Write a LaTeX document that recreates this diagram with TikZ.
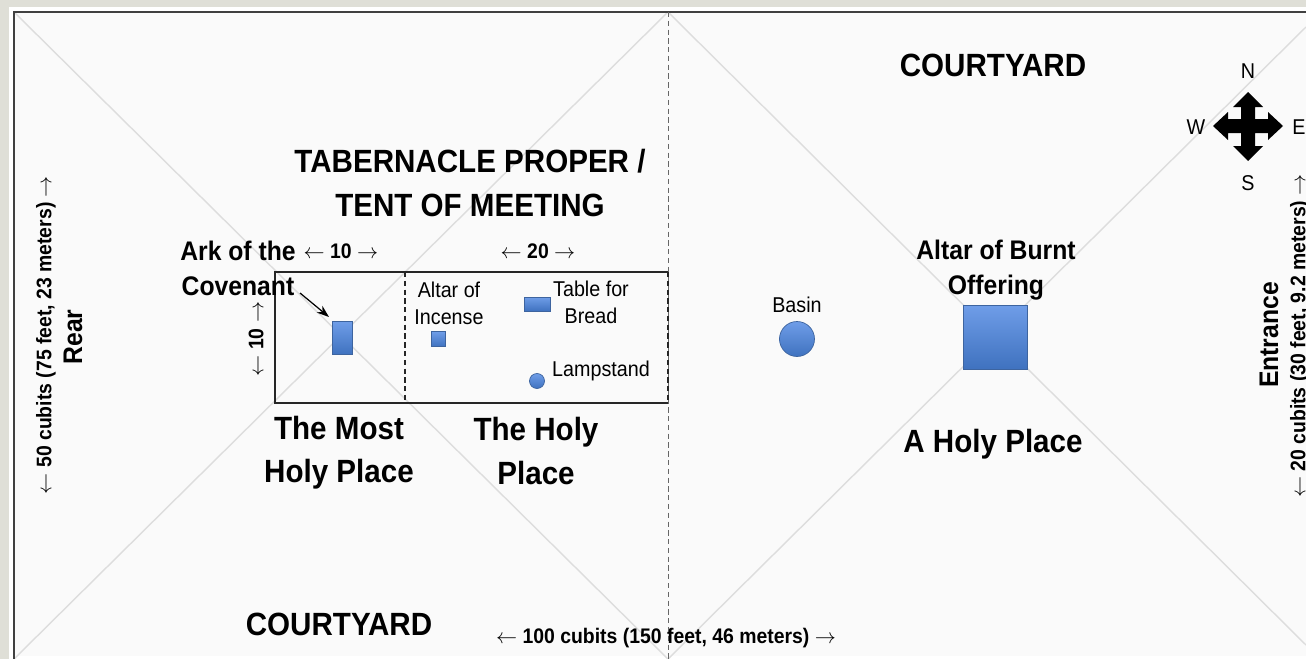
\documentclass[tikz,border=0pt]{standalone}
\usepackage{fontspec}
\usetikzlibrary{arrows.meta}
\setmainfont[FakeStretch=0.92]{Liberation Sans}
\definecolor{slide}{HTML}{DFDFD7}
\definecolor{paper}{HTML}{FAFAFA}
\definecolor{diag}{HTML}{DDDDDD}
\definecolor{itemtop}{HTML}{6F9DE8}
\definecolor{itembot}{HTML}{3F72BF}
\definecolor{itemedge}{HTML}{3D649F}
\tikzset{
  bighead/.style={font=\fontsize{18.3}{24.5}\selectfont\bfseries, align=center, inner sep=0pt},
  midhead/.style={font=\fontsize{15.3}{20}\selectfont\bfseries, align=center, inner sep=0pt},
  dimtext/.style={font=\fontsize{12}{14}\selectfont\bfseries, inner sep=0pt},
  itemtext/.style={font=\fontsize{12.2}{15.5}\selectfont, align=center, inner sep=0pt},
  item/.style={draw=itemedge, top color=itemtop, bottom color=itembot, inner sep=0pt},
  diagline/.style={diag, line width=0.8pt}
}
\begin{document}
\begin{tikzpicture}[x=0.02cm, y=-0.02cm]
\useasboundingbox (0, 0) rectangle (1306, 659);

\fill[slide] (0, 0) rectangle (1306, 659);
\fill[white] (9, 7) rectangle (1306, 659);
\fill[paper] (14, 12) rectangle (1306, 656);

\coordinate (tl) at (14, 12);
\coordinate (tm) at (668, 12);
\coordinate (tr) at (1306, 12);
\coordinate (bl) at (14, 659);
\coordinate (bm) at (668, 659);
\coordinate (er) at (1306, 27);
\coordinate (br) at (1306, 645);

% diagonals behind everything
\draw[diagline] (tl) -- (bm);
\draw[diagline] (tm) -- (bl);
\draw[diagline] (tm) -- (br);
\draw[diagline] (er) -- (bm);

\draw[black!75, line width=0.8pt] (bl) -- (tl) -- (tr);
\draw[black!60, line width=0.5pt, densely dashed] (tm) -- (bm);

% tent
\coordinate (ta) at (275, 272);
\coordinate (tb) at (668, 272);
\coordinate (tc) at (668, 403);
\coordinate (td) at (275, 403);
\coordinate (va) at (405, 272);
\coordinate (vb) at (405, 403);
\draw[black!85, line width=0.7pt] (tb) -- (ta) -- (td) -- (tc);
\draw[black!85, line width=0.6pt, densely dashed] (va) -- (vb);
\draw[black!85, line width=0.6pt, densely dashed] (tb) -- (tc);

\node[item, minimum width=0.4cm, minimum height=0.66cm] (arkbox) at (342, 338) {};
\node[item, minimum width=0.52cm, minimum height=0.28cm] (table) at (537, 304) {};
\node[item, minimum width=0.28cm, minimum height=0.3cm] (incense) at (438, 339) {};
\node[item, circle, minimum size=0.3cm] (lamp) at (537, 381) {};
\node[item, circle, minimum size=0.7cm] (basin) at (797, 339) {};
\node[item, minimum size=1.28cm] (altar) at (995, 337) {};

\node[bighead] (court1) at (993, 65) {COURTYARD};
\node[bighead] (court2) at (339, 624) {COURTYARD};
\node[bighead] (tent) at (470, 183) {TABERNACLE PROPER /\\TENT OF MEETING};
\node[bighead] (most) at (339, 453) {The Most\\Holy Place};
\node[bighead] (holy) at (536, 451) {The Holy\\Place};
\node[bighead] (aholy) at (993, 444) {A Holy Place};

\node[midhead] (ark1) at (238, 268) {Ark of the\\Covenant};
\node[midhead] (burnt) at (996, 270) {Altar of Burnt\\Offering};

\node[itemtext] (ltable) at (591, 302) {Table for\\Bread};
\node[itemtext] (lincense) at (449, 303) {Altar of\\Incense};
\node[itemtext] (llamp) at (601, 371) {Lampstand};
\node[itemtext] (lbasin) at (797, 305) {Basin};

\coordinate (arrowstart) at (300, 293);
\coordinate (arrowend) at (329, 317);
\draw[-{Stealth[length=7pt, width=5pt]}, line width=0.7pt] (arrowstart) -- (arrowend);

\node[dimtext] (d10a) at (341, 251) {$\leftarrow$ 10 $\rightarrow$};
\node[dimtext] (d20) at (538, 251) {$\leftarrow$ 20 $\rightarrow$};
\node[dimtext, rotate=90] (d10b) at (256, 339) {$\leftarrow$ 10 $\rightarrow$};
\node[dimtext] (d100) at (666, 638) {$\leftarrow$ 100 cubits (150 feet, 46 meters) $\rightarrow$};
\node[dimtext, rotate=90] (d50) at (46, 335) {$\leftarrow$ 50 cubits (75 feet, 23 meters) $\rightarrow$};
\node[dimtext, rotate=90] (d20b) at (1300, 336) {$\leftarrow$ 20 cubits (30 feet, 9.2 meters) $\rightarrow$};
\node[midhead, rotate=90] (rear) at (73, 337) {Rear};
\node[midhead, rotate=90] (entr) at (1269, 335) {Entrance};

% compass
\fill[black] (1248, 92) -- (1263, 107) -- (1255, 107) -- (1255, 119) -- (1268, 119)
  -- (1268, 112) -- (1283, 126) -- (1268, 140) -- (1268, 133) -- (1255, 133)
  -- (1255, 146) -- (1263, 146) -- (1248, 161) -- (1233, 146) -- (1241, 146)
  -- (1241, 133) -- (1228, 133) -- (1228, 140) -- (1213, 126) -- (1228, 112)
  -- (1228, 119) -- (1241, 119) -- (1241, 107) -- (1233, 107) -- cycle;
\node[itemtext] (north) at (1248, 71) {N};
\node[itemtext] (south) at (1248, 183) {S};
\node[itemtext] (west) at (1196, 127) {W};
\node[itemtext] (east) at (1299, 127) {E};

\end{tikzpicture}
\end{document}
